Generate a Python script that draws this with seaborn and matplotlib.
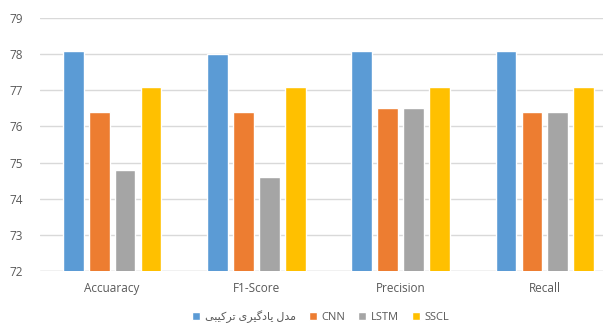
import matplotlib
matplotlib.use("Agg")
import matplotlib.pyplot as plt
import seaborn as sns
import pandas as pd

# ---- data ----
categories = ["Accuaracy", "F1-Score", "Precision", "Recall"]
models = ["مدل یادگیری ترکیبی", "CNN", "LSTM", "SSCL"]
hybrid_values = [78.1, 78.0, 78.1, 78.1]
cnn_values = [76.4, 76.4, 76.5, 76.4]
lstm_values = [74.8, 74.6, 76.5, 76.4]
sscl_values = [77.1, 77.1, 77.1, 77.1]
y_ticks = [72, 73, 74, 75, 76, 77, 78, 79]
colors = ["#5B9BD5", "#ED7D31", "#A5A5A5", "#FFC000"]

# ---- minimal Persian shaping (matplotlib has no Arabic shaping / bidi) ----
FORMS = {  # isolated, final, initial, medial
    "\u0645": ("\uFEE1", "\uFEE2", "\uFEE3", "\uFEE4"),
    "\u062F": ("\uFEA9", "\uFEAA", None, None),
    "\u0644": ("\uFEDD", "\uFEDE", "\uFEDF", "\uFEE0"),
    "\u06CC": ("\uFBFC", "\uFBFD", "\uFBFE", "\uFBFF"),
    "\u0627": ("\uFE8D", "\uFE8E", None, None),
    "\u06AF": ("\uFB92", "\uFB93", "\uFB94", "\uFB95"),
    "\u0631": ("\uFEAD", "\uFEAE", None, None),
    "\u062A": ("\uFE95", "\uFE96", "\uFE97", "\uFE98"),
    "\u06A9": ("\uFB8E", "\uFB8F", "\uFB90", "\uFB91"),
    "\u0628": ("\uFE8F", "\uFE90", "\uFE91", "\uFE92"),
}


def shape(text):
    if not any(c in FORMS for c in text):
        return text
    out = []
    n = len(text)
    for i, c in enumerate(text):
        if c not in FORMS:
            out.append(c)
            continue
        f = FORMS[c]
        prev = text[i - 1] if i > 0 else None
        nxt = text[i + 1] if i < n - 1 else None
        join_prev = prev in FORMS and FORMS[prev][2] is not None
        join_next = f[2] is not None and nxt in FORMS
        if join_prev and join_next:
            out.append(f[3])
        elif join_prev:
            out.append(f[1])
        elif join_next:
            out.append(f[2])
        else:
            out.append(f[0])
    return "".join(out)[::-1]


labels = [shape(m) for m in models]

rows = []
for lab, vals in zip(labels, [hybrid_values, cnn_values, lstm_values, sscl_values]):
    for cat, v in zip(categories, vals):
        rows.append({"category": cat, "model": lab, "value": v})
df = pd.DataFrame(rows)

sns.set_theme(style="white")
plt.rcParams["font.family"] = ["Open Sans", "DejaVu Sans"]
text_color = "#595959"

fig = plt.figure(figsize=(6.03, 3.23), dpi=100)
ax = fig.add_axes([40 / 603, 52 / 323, 577 / 603, 253 / 323])

sns.barplot(data=df, x="category", y="value", hue="model", palette=colors,
            width=0.72, gap=0.2, ax=ax, legend=True, saturation=1)

ax.set_ylim(72, 79)
ax.set_yticks(y_ticks)
ax.set_yticklabels([str(t) for t in y_ticks])
ax.set_xlim(-0.5, 3.5)
ax.yaxis.grid(True, color="#D9D9D9", linewidth=1)
ax.set_axisbelow(True)
for s in ax.spines.values():
    s.set_visible(False)
ax.axhline(72, color="#D9D9D9", linewidth=1, zorder=0.5)
ax.tick_params(axis="y", length=0, pad=12, labelsize=8.5, labelcolor=text_color)
ax.tick_params(axis="x", length=0, pad=8, labelsize=8.5, labelcolor=text_color)
ax.set_xlabel("")
ax.set_ylabel("")

handles, labs = ax.get_legend_handles_labels()
ax.get_legend().remove()
leg = fig.legend(handles, labs, loc="center", bbox_to_anchor=(0.532, 0.02),
                 ncol=4, frameon=False, fontsize=8, handlelength=0.7,
                 handleheight=0.7, handletextpad=0.4, columnspacing=1.2,
                 borderaxespad=0, borderpad=0)
for t in leg.get_texts():
    t.set_color(text_color)

fig.savefig("out.png", dpi=100)
